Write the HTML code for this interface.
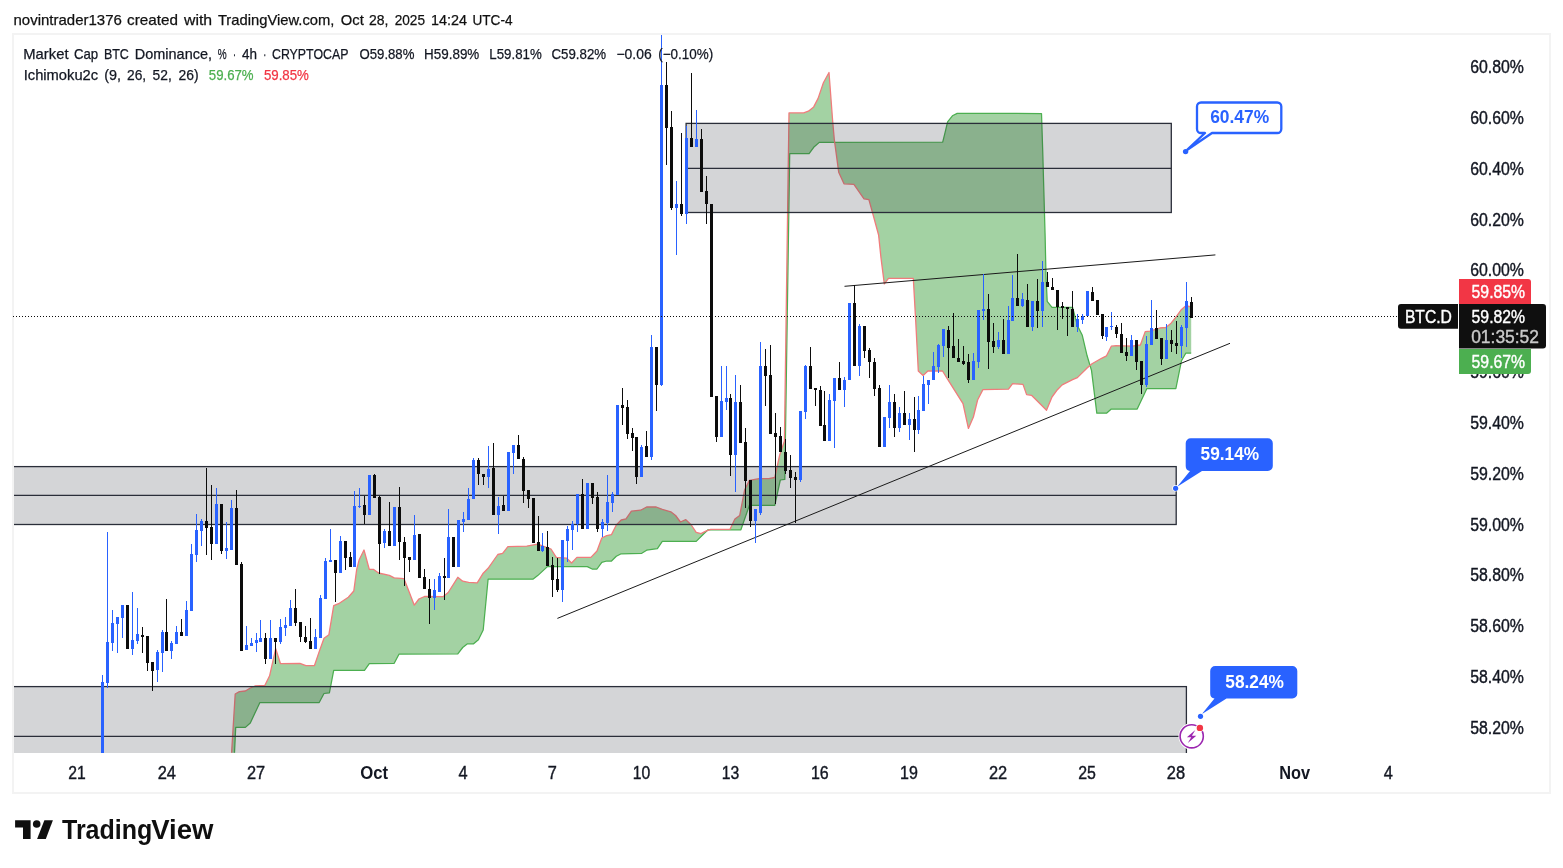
<!DOCTYPE html>
<html lang="en"><head><meta charset="utf-8"><title>BTC.D chart</title>
<style>html,body{margin:0;padding:0;background:#fff}body{width:1563px;height:868px;overflow:hidden}svg{display:block;position:absolute;left:0;top:0}text{font-family:"Liberation Sans","DejaVu Sans",sans-serif;white-space:pre}</style></head><body>
<svg width="1563" height="868" viewBox="0 0 1563 868">
<defs><clipPath id="plot"><rect x="14" y="35" width="1382" height="718"/></clipPath></defs>
<rect width="1563" height="868" fill="#fff"/>
<rect x="13" y="34" width="1537" height="759" fill="none" stroke="#f3f3f3" stroke-width="2"/>
<text y="24.7" font-size="15" fill="#111" stroke-width="0.25"><tspan x="13.5" textLength="108.3" lengthAdjust="spacingAndGlyphs" fill="#111" stroke="#111">novintrader1376</tspan> <tspan x="127" textLength="50.9" lengthAdjust="spacingAndGlyphs" fill="#111" stroke="#111">created</tspan> <tspan x="184" textLength="28.1" lengthAdjust="spacingAndGlyphs" fill="#111" stroke="#111">with</tspan> <tspan x="217.9" textLength="116.5" lengthAdjust="spacingAndGlyphs" fill="#111" stroke="#111">TradingView.com,</tspan> <tspan x="340.8" textLength="23.0" lengthAdjust="spacingAndGlyphs" fill="#111" stroke="#111">Oct</tspan> <tspan x="369" textLength="19.4" lengthAdjust="spacingAndGlyphs" fill="#111" stroke="#111">28,</tspan> <tspan x="394.7" textLength="30.3" lengthAdjust="spacingAndGlyphs" fill="#111" stroke="#111">2025</tspan> <tspan x="431" textLength="36" lengthAdjust="spacingAndGlyphs" fill="#111" stroke="#111">14:24</tspan> <tspan x="472.5" textLength="40.0" lengthAdjust="spacingAndGlyphs" fill="#111" stroke="#111">UTC-4</tspan></text>
<g clip-path="url(#plot)">
<path d="M231.6,752.8 L235.2,694 L239.4,691.6 L245.4,691 L250.3,688 L255,686 L264.8,685.5 L269.6,675.8 L275.7,648.7 L280.5,663.7 L299.9,663.3 L305.9,665.7 L314.4,665.7 L319.2,651.6 L324,638.3 L328.9,634.7 L333.7,605.7 L338.6,603.7 L348.3,597.2 L353.8,591 L356.7,569.4 L359.2,559.7 L364,550 L369.3,569.4 L373.7,569.4 L378.5,573 L389.4,575.4 L394.2,577.8 L403.9,578.6 L408.8,591 L414.3,605.2 L418.9,599 L424.5,596.5 L443.3,596.6 L448.2,592.5 L457.8,577.3 L462.7,581.2 L468.7,582.4 L477.2,582.9 L483.2,573.2 L488.1,568.3 L497.8,554.5 L502.6,553.3 L507.9,546.6 L526.8,546.1 L537.7,544.1 L551,549 L556.3,557.4 L566.7,558.2 L571.6,563 L576.9,557.4 L590.9,557.4 L597,551 L601.8,538 L606.7,535.6 L611.5,534.6 L616.3,525 L621.2,520 L626,518.8 L631.4,511.2 L640.6,510.2 L646.6,507 L656.2,507 L662.3,509.4 L670.8,511.8 L675.6,515.5 L680.4,522 L685.8,519.6 L691.3,525 L696.2,532.4 L701,533.6 L705.8,531.2 L710.7,529.3 L730,529.3 L734.9,519 L739.7,515.5 L744.6,490 L749.4,480.4 L759.1,478.7 L768.8,478.7 L774.8,477.5 L779.7,455 L784.4,441.2 L789.0,112.9 L803.6,112.9 L808.4,111.2 L813.7,106.9 L818.1,98.4 L823.4,82.7 L829,72.5 L832.6,120.2 L834.3,139.5 L838.7,172.2 L844,183.8 L853.9,184.3 L864,198.8 L868.9,199.6 L873.7,217 L878.6,235 L881,258 L884.3,283.8 L888.5,278.3 L913.3,278.3 L915.8,322.6 L918.3,371 L923.1,375.4 L927.9,371 L942.5,371 L948.5,380.7 L963,403.7 L968.4,428.4 L973.4,417 L977.6,400 L982.9,389.6 L1008.5,389.2 L1012.6,383.7 L1023,384.4 L1026.6,394.6 L1031.5,395.3 L1046.5,410.3 L1052,397 L1057.4,389.7 L1062.2,384.9 L1072.6,379.6 L1077.4,377.6 L1087.1,368 L1092,363.8 L1101.6,358.3 L1106.5,355.8 L1111.3,346.2 L1116.2,345.7 L1131.9,346.2 L1140.4,345 L1145.2,331.6 L1150,331.2 L1159.7,328 L1165.8,327.5 L1171.1,323.2 L1175.9,317.1 L1181.5,309.4 L1185.9,305.7 L1191.2,307 L1191.2,353 L1185.9,353 L1181.5,360.7 L1175.9,388.5 L1146.9,388.5 L1137.2,409 L1111.3,409 L1106.5,413.2 L1096.8,413.2 L1091.5,370.4 L1087.1,355.8 L1082.3,335.3 L1077.4,325.6 L1072.6,307.4 L1052,307.4 L1047.2,301.4 L1046,276 L1045.1,235.2 L1042.7,150.5 L1041.5,113.5 L957.2,113.4 L952.4,115.8 L947.6,121.9 L945.1,132.3 L942.7,142.2 L819.3,142.4 L813.7,147.3 L809.1,153.6 L789.7,153.6 L784.8,479.4 L780.3,480 L774.8,505.3 L749.4,505.3 L740.9,529.8 L708,529.8 L704.6,533 L696.2,541.4 L662.3,541.4 L657.4,548.6 L646.6,550.2 L641.8,553.3 L621.2,553.8 L616.3,556.2 L611.5,561 L606.7,561 L601.8,562.3 L597,569 L592.1,569 L587.3,566.6 L547.4,566.6 L537.7,575.6 L532.9,579.2 L488.1,579.2 L483.2,630 L478.4,639.7 L473.6,643.8 L467.5,643.8 L462.7,647.5 L457.8,653.8 L399.1,654 L394.2,663.3 L369.3,663.7 L364.5,670.3 L333.7,670.3 L329.4,692.8 L324,693.5 L319.2,702.5 L259.9,702.5 L250.3,723 L245.4,727.4 L235.7,727.4 L234.5,752.8Z" fill="#48a548" fill-opacity="0.5" stroke="none"/>
<polyline points="234.5,752.8 235.7,727.4 245.4,727.4 250.3,723 259.9,702.5 319.2,702.5 324,693.5 329.4,692.8 333.7,670.3 364.5,670.3 369.3,663.7 394.2,663.3 399.1,654 457.8,653.8 462.7,647.5 467.5,643.8 473.6,643.8 478.4,639.7 483.2,630 488.1,579.2 532.9,579.2 537.7,575.6 547.4,566.6 587.3,566.6 592.1,569 597,569 601.8,562.3 606.7,561 611.5,561 616.3,556.2 621.2,553.8 641.8,553.3 646.6,550.2 657.4,548.6 662.3,541.4 696.2,541.4 704.6,533 708,529.8 740.9,529.8 749.4,505.3 774.8,505.3 780.3,480 784.8,479.4 789.7,153.6 809.1,153.6 813.7,147.3 819.3,142.4 942.7,142.2 945.1,132.3 947.6,121.9 952.4,115.8 957.2,113.4 1041.5,113.5 1042.7,150.5 1045.1,235.2 1046,276 1047.2,301.4 1052,307.4 1072.6,307.4 1077.4,325.6 1082.3,335.3 1087.1,355.8 1091.5,370.4 1096.8,413.2 1106.5,413.2 1111.3,409 1137.2,409 1146.9,388.5 1175.9,388.5 1181.5,360.7 1185.9,353 1191.2,353" fill="none" stroke="#4caf50" stroke-width="1.25" stroke-linejoin="round"/>
<polyline points="231.6,752.8 235.2,694 239.4,691.6 245.4,691 250.3,688 255,686 264.8,685.5 269.6,675.8 275.7,648.7 280.5,663.7 299.9,663.3 305.9,665.7 314.4,665.7 319.2,651.6 324,638.3 328.9,634.7 333.7,605.7 338.6,603.7 348.3,597.2 353.8,591 356.7,569.4 359.2,559.7 364,550 369.3,569.4 373.7,569.4 378.5,573 389.4,575.4 394.2,577.8 403.9,578.6 408.8,591 414.3,605.2 418.9,599 424.5,596.5 443.3,596.6 448.2,592.5 457.8,577.3 462.7,581.2 468.7,582.4 477.2,582.9 483.2,573.2 488.1,568.3 497.8,554.5 502.6,553.3 507.9,546.6 526.8,546.1 537.7,544.1 551,549 556.3,557.4 566.7,558.2 571.6,563 576.9,557.4 590.9,557.4 597,551 601.8,538 606.7,535.6 611.5,534.6 616.3,525 621.2,520 626,518.8 631.4,511.2 640.6,510.2 646.6,507 656.2,507 662.3,509.4 670.8,511.8 675.6,515.5 680.4,522 685.8,519.6 691.3,525 696.2,532.4 701,533.6 705.8,531.2 710.7,529.3 730,529.3 734.9,519 739.7,515.5 744.6,490 749.4,480.4 759.1,478.7 768.8,478.7 774.8,477.5 779.7,455 784.4,441.2 789.0,112.9 803.6,112.9 808.4,111.2 813.7,106.9 818.1,98.4 823.4,82.7 829,72.5 832.6,120.2 834.3,139.5 838.7,172.2 844,183.8 853.9,184.3 864,198.8 868.9,199.6 873.7,217 878.6,235 881,258 884.3,283.8 888.5,278.3 913.3,278.3 915.8,322.6 918.3,371 923.1,375.4 927.9,371 942.5,371 948.5,380.7 963,403.7 968.4,428.4 973.4,417 977.6,400 982.9,389.6 1008.5,389.2 1012.6,383.7 1023,384.4 1026.6,394.6 1031.5,395.3 1046.5,410.3 1052,397 1057.4,389.7 1062.2,384.9 1072.6,379.6 1077.4,377.6 1087.1,368 1092,363.8 1101.6,358.3 1106.5,355.8 1111.3,346.2 1116.2,345.7 1131.9,346.2 1140.4,345 1145.2,331.6 1150,331.2 1159.7,328 1165.8,327.5 1171.1,323.2 1175.9,317.1 1181.5,309.4 1185.9,305.7 1191.2,307" fill="none" stroke="#f07c7c" stroke-width="1.3" stroke-linejoin="round"/>
<rect x="686.1" y="123.4" width="485.19999999999993" height="89.1" fill="rgba(42,46,57,0.2)" stroke="#2a2e39" stroke-width="1.3"/>
<line x1="686.1" y1="168.4" x2="1171.3" y2="168.4" stroke="#2a2e39" stroke-width="1.3"/>
<rect x="0" y="466.6" width="1176.2" height="57.89999999999998" fill="rgba(42,46,57,0.2)" stroke="#2a2e39" stroke-width="1.3"/>
<line x1="0" y1="495.4" x2="1176.2" y2="495.4" stroke="#2a2e39" stroke-width="1.3"/>
<rect x="0" y="686.6" width="1186.4" height="113.39999999999998" fill="rgba(42,46,57,0.2)" stroke="#2a2e39" stroke-width="1.3"/>
<line x1="0" y1="736.3" x2="1186.4" y2="736.3" stroke="#2a2e39" stroke-width="1.3"/>
<line x1="557.4" y1="618.4" x2="1230" y2="343.3" stroke="#1a1a1a" stroke-width="1"/>
<line x1="844.5" y1="286.3" x2="1215.4" y2="254.9" stroke="#1a1a1a" stroke-width="1"/>
<path d="M102.5,675V760M107.5,532V688M112.5,610V651M117.5,617V653M122.5,605V638M132.5,592V655M137.5,608V644M157.5,650V682M162.5,630V672M171.5,641V659M176.5,626V644M186.5,601V636M191.5,544V611M196.5,514V562M201.5,519V546M216.5,488V544M226.5,522V559M231.5,500V550M246.5,626V650M251.5,638V646M256.5,633V652M260.5,620V642M270.5,620V659M280.5,619V644M285.5,617V636M290.5,600V626M315.5,629V649M320.5,595V638M325.5,558V599M330.5,529V562M340.5,536V573M354.5,491V567M359.5,488V508M369.5,475V515M384.5,529V548M394.5,507V546M414.5,515V560M434.5,579V610M439.5,573V592M448.5,509V578M458.5,520V567M463.5,512V532M468.5,488V520M473.5,458V499M488.5,446V488M498.5,497V534M508.5,452V511M513.5,445V474M542.5,533V552M562.5,540V602M567.5,526V562M572.5,521V550M577.5,494V532M587.5,483V529M602.5,519V537M607.5,475V531M612.5,492V512M617.5,405V495M641.5,445V477M651.5,335V460M661.5,30V386M676.5,181V255M686.5,126V224M696.5,110V147M721.5,366V437M726.5,366V410M735.5,375V492M755.5,509V543M760.5,342V515M800.5,411V482M805.5,365V419M829.5,394V441M834.5,378V448M844.5,377V407M849.5,303V380M859.5,324V376M884.5,417V447M889.5,385V428M899.5,407V432M909.5,413V440M918.5,396V434M923.5,376V411M928.5,380V404M933.5,352V380M938.5,344V373M943.5,329V357M973.5,353V380M978.5,310V368M983.5,274V320M998.5,332V349M1008.5,306V354M1012.5,275V321M1022.5,293V307M1032.5,301V331M1042.5,261V327M1077.5,314V332M1082.5,314V324M1087.5,291V316M1106.5,327V341M1111.5,312V330M1131.5,335V356M1146.5,336V387M1151.5,300V345M1166.5,324V359M1181.5,325V358M1186.5,282V347" stroke="#2962ff" stroke-width="1" fill="none"/>
<path d="M101,682h3V760h-3ZM106,642h3V683h-3ZM111,623h3V643h-3ZM116,617h3V624h-3ZM121,605h3V618h-3ZM131,640h3V649h-3ZM136,634h3V641h-3ZM156,652h3V670h-3ZM161,632h3V653h-3ZM170,643h3V651h-3ZM175,632h3V644h-3ZM185,610h3V636h-3ZM190,554h3V611h-3ZM195,530h3V555h-3ZM200,521h3V531h-3ZM215,504h3V544h-3ZM225,548h3V551h-3ZM230,508h3V550h-3ZM245,645h3V650h-3ZM250,643h3V646h-3ZM255,640h3V643h-3ZM259,638h3V642h-3ZM269,638h3V659h-3ZM279,627h3V642h-3ZM284,625h3V628h-3ZM289,608h3V626h-3ZM314,637h3V649h-3ZM319,598h3V638h-3ZM324,561h3V599h-3ZM329,560h3V562h-3ZM339,541h3V573h-3ZM353,506h3V567h-3ZM358,506h3V507h-3ZM368,475h3V515h-3ZM383,531h3V543h-3ZM393,507h3V546h-3ZM413,535h3V560h-3ZM433,590h3V598h-3ZM438,576h3V592h-3ZM447,537h3V578h-3ZM457,520h3V567h-3ZM462,519h3V522h-3ZM467,499h3V520h-3ZM472,460h3V499h-3ZM487,469h3V477h-3ZM497,506h3V515h-3ZM507,452h3V511h-3ZM512,445h3V453h-3ZM541,546h3V551h-3ZM561,540h3V590h-3ZM566,529h3V541h-3ZM571,524h3V530h-3ZM576,494h3V524h-3ZM586,483h3V529h-3ZM601,522h3V529h-3ZM606,502h3V523h-3ZM611,494h3V503h-3ZM616,405h3V495h-3ZM640,447h3V477h-3ZM650,347h3V457h-3ZM660,85h3V385h-3ZM675,204h3V208h-3ZM685,138h3V214h-3ZM695,139h3V147h-3ZM720,401h3V437h-3ZM725,398h3V402h-3ZM734,402h3V455h-3ZM754,509h3V521h-3ZM759,366h3V513h-3ZM799,411h3V480h-3ZM804,366h3V412h-3ZM828,400h3V441h-3ZM833,378h3V401h-3ZM843,380h3V390h-3ZM848,303h3V380h-3ZM858,326h3V366h-3ZM883,417h3V447h-3ZM888,402h3V418h-3ZM898,413h3V428h-3ZM908,419h3V425h-3ZM917,410h3V430h-3ZM922,384h3V411h-3ZM927,380h3V385h-3ZM932,366h3V380h-3ZM937,345h3V367h-3ZM942,329h3V346h-3ZM972,361h3V380h-3ZM977,310h3V362h-3ZM982,309h3V311h-3ZM997,340h3V347h-3ZM1007,320h3V354h-3ZM1011,298h3V321h-3ZM1021,299h3V306h-3ZM1031,301h3V327h-3ZM1041,282h3V311h-3ZM1076,319h3V327h-3ZM1081,316h3V320h-3ZM1086,291h3V316h-3ZM1105,327h3V337h-3ZM1110,326h3V327h-3ZM1130,340h3V356h-3ZM1145,344h3V385h-3ZM1150,328h3V345h-3ZM1165,340h3V359h-3ZM1180,327h3V346h-3ZM1185,301h3V328h-3Z" fill="#2962ff"/>
<path d="M127.5,605V649M142.5,627V653M147.5,636V671M152.5,662V691M166.5,599V651M181.5,619V636M206.5,468V555M211.5,485V560M221.5,504V554M236.5,490V565M241.5,562V651M265.5,633V664M275.5,638V664M295.5,589V626M300.5,622V642M305.5,626V643M310.5,618V649M335.5,560V602M345.5,541V570M350.5,552V567M364.5,496V524M374.5,474V498M379.5,496V574M389.5,502V546M399.5,487V560M404.5,537V586M409.5,557V572M419.5,534V578M424.5,569V589M429.5,579V624M444.5,558V600M453.5,537V567M478.5,458V485M483.5,474V485M493.5,443V515M503.5,496V511M518.5,435V459M523.5,457V503M528.5,490V508M533.5,498V543M538.5,516V551M547.5,531V566M552.5,557V597M557.5,558V592M582.5,479V529M592.5,483V504M597.5,492V532M622.5,388V425M627.5,400V439M632.5,428V451M636.5,437V484M646.5,431V457M656.5,347V411M666.5,62V165M671.5,111V210M681.5,133V216M691.5,73V147M701.5,129V192M706.5,176V224M711.5,204V397M716.5,396V442M730.5,394V476M740.5,385V443M745.5,428V508M750.5,480V527M765.5,349V406M770.5,345V434M775.5,413V504M780.5,427V452M785.5,439V474M790.5,455V488M795.5,472V523M810.5,347V389M815.5,388V406M820.5,386V426M824.5,391V441M839.5,362V390M854.5,285V366M864.5,326V358M869.5,348V378M874.5,358V396M879.5,385V447M894.5,394V437M904.5,391V425M914.5,397V452M948.5,326V378M953.5,313V358M958.5,339V362M963.5,346V365M968.5,354V383M988.5,294V369M993.5,323V353M1003.5,319V354M1017.5,254V306M1027.5,284V327M1037.5,279V328M1047.5,272V287M1052.5,278V290M1057.5,290V330M1062.5,302V319M1067.5,307V336M1072.5,291V327M1092.5,287V301M1097.5,300V315M1102.5,314V339M1116.5,325V338M1121.5,323V353M1126.5,338V361M1136.5,340V370M1141.5,361V394M1156.5,310V339M1161.5,338V365M1171.5,330V352M1176.5,321V354M1191.5,297V318" stroke="#0c0c0c" stroke-width="1" fill="none"/>
<path d="M126,605h3V649h-3ZM141,635h3V637h-3ZM146,636h3V663h-3ZM151,662h3V671h-3ZM165,632h3V651h-3ZM180,632h3V636h-3ZM205,521h3V528h-3ZM210,527h3V544h-3ZM220,504h3V551h-3ZM235,508h3V565h-3ZM240,564h3V651h-3ZM264,638h3V659h-3ZM274,638h3V642h-3ZM294,608h3V623h-3ZM299,622h3V637h-3ZM304,637h3V642h-3ZM309,641h3V649h-3ZM334,560h3V573h-3ZM344,541h3V558h-3ZM349,557h3V567h-3ZM363,505h3V515h-3ZM373,475h3V498h-3ZM378,497h3V544h-3ZM388,531h3V546h-3ZM398,507h3V542h-3ZM403,542h3V558h-3ZM408,557h3V560h-3ZM418,534h3V578h-3ZM423,577h3V589h-3ZM428,589h3V598h-3ZM443,576h3V578h-3ZM452,537h3V567h-3ZM477,460h3V474h-3ZM482,474h3V477h-3ZM492,468h3V515h-3ZM502,505h3V511h-3ZM517,445h3V459h-3ZM522,459h3V491h-3ZM527,490h3V499h-3ZM532,498h3V543h-3ZM537,542h3V551h-3ZM546,547h3V566h-3ZM551,565h3V580h-3ZM556,579h3V590h-3ZM581,494h3V529h-3ZM591,483h3V498h-3ZM596,497h3V529h-3ZM621,405h3V408h-3ZM626,407h3V434h-3ZM631,433h3V438h-3ZM635,437h3V477h-3ZM645,446h3V457h-3ZM655,347h3V385h-3ZM665,85h3V128h-3ZM670,127h3V208h-3ZM680,204h3V214h-3ZM690,138h3V147h-3ZM700,139h3V192h-3ZM705,191h3V204h-3ZM710,204h3V397h-3ZM715,396h3V437h-3ZM729,398h3V455h-3ZM739,402h3V443h-3ZM744,442h3V481h-3ZM749,480h3V521h-3ZM764,366h3V376h-3ZM769,375h3V434h-3ZM774,433h3V437h-3ZM779,436h3V452h-3ZM784,452h3V471h-3ZM789,470h3V478h-3ZM794,477h3V480h-3ZM809,366h3V389h-3ZM814,388h3V390h-3ZM819,390h3V426h-3ZM823,425h3V441h-3ZM838,378h3V390h-3ZM853,303h3V366h-3ZM863,326h3V351h-3ZM868,350h3V362h-3ZM873,362h3V389h-3ZM878,388h3V447h-3ZM893,402h3V428h-3ZM903,413h3V425h-3ZM913,419h3V430h-3ZM947,330h3V348h-3ZM952,346h3V358h-3ZM957,358h3V362h-3ZM962,361h3V364h-3ZM967,362h3V380h-3ZM987,309h3V342h-3ZM992,341h3V347h-3ZM1002,340h3V354h-3ZM1016,298h3V306h-3ZM1026,300h3V327h-3ZM1036,301h3V311h-3ZM1046,282h3V287h-3ZM1051,287h3V290h-3ZM1056,290h3V307h-3ZM1061,306h3V308h-3ZM1066,307h3V309h-3ZM1071,309h3V327h-3ZM1091,292h3V301h-3ZM1096,300h3V315h-3ZM1101,314h3V336h-3ZM1115,327h3V334h-3ZM1120,334h3V353h-3ZM1125,352h3V356h-3ZM1135,340h3V362h-3ZM1140,361h3V385h-3ZM1155,328h3V339h-3ZM1160,338h3V359h-3ZM1170,340h3V344h-3ZM1175,343h3V346h-3ZM1190,302h3V318h-3Z" fill="#0c0c0c"/>
</g>
<line x1="13" y1="316.5" x2="1398" y2="316.5" stroke="#0c0c0c" stroke-width="1" stroke-dasharray="1 2"/>
<text y="58.7" font-size="14.4" fill="#131722" stroke-width="0.25"><tspan x="23.3" textLength="45.2" lengthAdjust="spacingAndGlyphs" fill="#131722" stroke="#131722">Market</tspan> <tspan x="73.9" textLength="24.3" lengthAdjust="spacingAndGlyphs" fill="#131722" stroke="#131722">Cap</tspan> <tspan x="103.9" textLength="25.0" lengthAdjust="spacingAndGlyphs" fill="#131722" stroke="#131722">BTC</tspan> <tspan x="134.8" textLength="77.2" lengthAdjust="spacingAndGlyphs" fill="#131722" stroke="#131722">Dominance,</tspan> <tspan x="217.8" textLength="8.9" lengthAdjust="spacingAndGlyphs" fill="#131722" stroke="#131722">%</tspan> <tspan x="232.9" textLength="3.0" lengthAdjust="spacingAndGlyphs" fill="#131722" stroke="#131722">·</tspan> <tspan x="242.1" textLength="15.0" lengthAdjust="spacingAndGlyphs" fill="#131722" stroke="#131722">4h</tspan> <tspan x="263.3" textLength="3.0" lengthAdjust="spacingAndGlyphs" fill="#131722" stroke="#131722">·</tspan> <tspan x="272" textLength="76.2" lengthAdjust="spacingAndGlyphs" fill="#131722" stroke="#131722">CRYPTOCAP</tspan> <tspan x="359.5" textLength="54.9" lengthAdjust="spacingAndGlyphs" fill="#131722" stroke="#131722">O59.88%</tspan> <tspan x="424.1" textLength="55.2" lengthAdjust="spacingAndGlyphs" fill="#131722" stroke="#131722">H59.89%</tspan> <tspan x="489.3" textLength="52.4" lengthAdjust="spacingAndGlyphs" fill="#131722" stroke="#131722">L59.81%</tspan> <tspan x="551.5" textLength="54.6" lengthAdjust="spacingAndGlyphs" fill="#131722" stroke="#131722">C59.82%</tspan> <tspan x="616.5" textLength="35.2" lengthAdjust="spacingAndGlyphs" fill="#131722" stroke="#131722">−0.06</tspan> <tspan x="658.3" textLength="54.9" lengthAdjust="spacingAndGlyphs" fill="#131722" stroke="#131722">(−0.10%)</tspan></text>
<text y="79.8" font-size="14.4" fill="#131722" stroke-width="0.25"><tspan x="23.7" textLength="74.5" lengthAdjust="spacingAndGlyphs" fill="#131722" stroke="#131722">Ichimoku2c</tspan> <tspan x="104.2" textLength="16.8" lengthAdjust="spacingAndGlyphs" fill="#131722" stroke="#131722">(9,</tspan> <tspan x="127" textLength="19.2" lengthAdjust="spacingAndGlyphs" fill="#131722" stroke="#131722">26,</tspan> <tspan x="152.6" textLength="19.2" lengthAdjust="spacingAndGlyphs" fill="#131722" stroke="#131722">52,</tspan> <tspan x="178.5" textLength="20.1" lengthAdjust="spacingAndGlyphs" fill="#131722" stroke="#131722">26)</tspan> <tspan x="208.8" textLength="44.8" lengthAdjust="spacingAndGlyphs" fill="#4caf50" stroke="#4caf50">59.67%</tspan> <tspan x="263.9" textLength="45.0" lengthAdjust="spacingAndGlyphs" fill="#f23645" stroke="#f23645">59.85%</tspan></text>
<text x="1470.2" y="73.0" font-size="18" fill="#131722" stroke="#131722" stroke-width="0.4" textLength="53.7" lengthAdjust="spacingAndGlyphs">60.80%</text>
<text x="1470.2" y="123.8" font-size="18" fill="#131722" stroke="#131722" stroke-width="0.4" textLength="53.7" lengthAdjust="spacingAndGlyphs">60.60%</text>
<text x="1470.2" y="174.7" font-size="18" fill="#131722" stroke="#131722" stroke-width="0.4" textLength="53.7" lengthAdjust="spacingAndGlyphs">60.40%</text>
<text x="1470.2" y="225.5" font-size="18" fill="#131722" stroke="#131722" stroke-width="0.4" textLength="53.7" lengthAdjust="spacingAndGlyphs">60.20%</text>
<text x="1470.2" y="276.3" font-size="18" fill="#131722" stroke="#131722" stroke-width="0.4" textLength="53.7" lengthAdjust="spacingAndGlyphs">60.00%</text>
<text x="1470.2" y="327.1" font-size="18" fill="#131722" stroke="#131722" stroke-width="0.4" textLength="53.7" lengthAdjust="spacingAndGlyphs">59.80%</text>
<text x="1470.2" y="378.0" font-size="18" fill="#131722" stroke="#131722" stroke-width="0.4" textLength="53.7" lengthAdjust="spacingAndGlyphs">59.60%</text>
<text x="1470.2" y="428.8" font-size="18" fill="#131722" stroke="#131722" stroke-width="0.4" textLength="53.7" lengthAdjust="spacingAndGlyphs">59.40%</text>
<text x="1470.2" y="479.6" font-size="18" fill="#131722" stroke="#131722" stroke-width="0.4" textLength="53.7" lengthAdjust="spacingAndGlyphs">59.20%</text>
<text x="1470.2" y="530.5" font-size="18" fill="#131722" stroke="#131722" stroke-width="0.4" textLength="53.7" lengthAdjust="spacingAndGlyphs">59.00%</text>
<text x="1470.2" y="581.3" font-size="18" fill="#131722" stroke="#131722" stroke-width="0.4" textLength="53.7" lengthAdjust="spacingAndGlyphs">58.80%</text>
<text x="1470.2" y="632.1" font-size="18" fill="#131722" stroke="#131722" stroke-width="0.4" textLength="53.7" lengthAdjust="spacingAndGlyphs">58.60%</text>
<text x="1470.2" y="683.0" font-size="18" fill="#131722" stroke="#131722" stroke-width="0.4" textLength="53.7" lengthAdjust="spacingAndGlyphs">58.40%</text>
<text x="1470.2" y="733.8" font-size="18" fill="#131722" stroke="#131722" stroke-width="0.4" textLength="53.7" lengthAdjust="spacingAndGlyphs">58.20%</text>
<text x="77" y="778.8" font-size="18" fill="#131722" stroke="#131722" stroke-width="0.4" textLength="17.5" lengthAdjust="spacingAndGlyphs" text-anchor="middle">21</text>
<text x="166.8" y="778.8" font-size="18" fill="#131722" stroke="#131722" stroke-width="0.4" textLength="18.3" lengthAdjust="spacingAndGlyphs" text-anchor="middle">24</text>
<text x="256" y="778.8" font-size="18" fill="#131722" stroke="#131722" stroke-width="0.4" textLength="18.2" lengthAdjust="spacingAndGlyphs" text-anchor="middle">27</text>
<text x="374.2" y="778.8" font-size="18" fill="#131722" textLength="27.9" lengthAdjust="spacingAndGlyphs" font-weight="bold" text-anchor="middle">Oct</text>
<text x="463" y="778.8" font-size="18" fill="#131722" stroke="#131722" stroke-width="0.4" textLength="9.1" lengthAdjust="spacingAndGlyphs" text-anchor="middle">4</text>
<text x="552.3" y="778.8" font-size="18" fill="#131722" stroke="#131722" stroke-width="0.4" textLength="9.1" lengthAdjust="spacingAndGlyphs" text-anchor="middle">7</text>
<text x="641.5" y="778.8" font-size="18" fill="#131722" stroke="#131722" stroke-width="0.4" textLength="17.5" lengthAdjust="spacingAndGlyphs" text-anchor="middle">10</text>
<text x="730.6" y="778.8" font-size="18" fill="#131722" stroke="#131722" stroke-width="0.4" textLength="17.5" lengthAdjust="spacingAndGlyphs" text-anchor="middle">13</text>
<text x="819.8" y="778.8" font-size="18" fill="#131722" stroke="#131722" stroke-width="0.4" textLength="17.8" lengthAdjust="spacingAndGlyphs" text-anchor="middle">16</text>
<text x="909" y="778.8" font-size="18" fill="#131722" stroke="#131722" stroke-width="0.4" textLength="17.8" lengthAdjust="spacingAndGlyphs" text-anchor="middle">19</text>
<text x="998.1" y="778.8" font-size="18" fill="#131722" stroke="#131722" stroke-width="0.4" textLength="18.3" lengthAdjust="spacingAndGlyphs" text-anchor="middle">22</text>
<text x="1087" y="778.8" font-size="18" fill="#131722" stroke="#131722" stroke-width="0.4" textLength="17.7" lengthAdjust="spacingAndGlyphs" text-anchor="middle">25</text>
<text x="1176" y="778.8" font-size="18" fill="#131722" stroke="#131722" stroke-width="0.4" textLength="18.3" lengthAdjust="spacingAndGlyphs" text-anchor="middle">28</text>
<text x="1294.7" y="778.8" font-size="18" fill="#131722" textLength="30.9" lengthAdjust="spacingAndGlyphs" font-weight="bold" text-anchor="middle">Nov</text>
<text x="1388.4" y="778.8" font-size="18" fill="#131722" stroke="#131722" stroke-width="0.4" textLength="9.1" lengthAdjust="spacingAndGlyphs" text-anchor="middle">4</text>
<path d="M1459,279h69a3,3 0 0 1 3,3v22h-72z" fill="#f23645"/>
<path d="M1459,349h72v22a3,3 0 0 1 -3,3h-69z" fill="#4caf50"/>
<path d="M1459,304h84a3,3 0 0 1 3,3v38.5a3,3 0 0 1 -3,3h-84z" fill="#0f0f0f"/>
<path d="M1401,304h57v24.7h-57a3,3 0 0 1 -3,-3v-18.7a3,3 0 0 1 3,-3z" fill="#0f0f0f"/>
<text x="1471.6" y="298.3" font-size="18" fill="#fff" stroke="#fff" stroke-width="0.4" textLength="53.5" lengthAdjust="spacingAndGlyphs">59.85%</text>
<text x="1471.6" y="323" font-size="18" fill="#fff" stroke="#fff" stroke-width="0.4" textLength="53.5" lengthAdjust="spacingAndGlyphs">59.82%</text>
<text x="1471.2" y="343.2" font-size="18" fill="#c9c9c9" stroke="#c9c9c9" stroke-width="0.4" textLength="67.8" lengthAdjust="spacingAndGlyphs">01:35:52</text>
<text x="1471.6" y="368.2" font-size="18" fill="#fff" stroke="#fff" stroke-width="0.4" textLength="53.5" lengthAdjust="spacingAndGlyphs">59.67%</text>
<text x="1404.9" y="322.6" font-size="18" fill="#fff" stroke="#fff" stroke-width="0.4" textLength="47" lengthAdjust="spacingAndGlyphs">BTC.D</text>
<path d="M1187.4,149.7L1205,133H1201a4,4 0 0 1 -4,-4V106.5a4,4 0 0 1 4,-4H1277.3a4,4 0 0 1 4,4V129a4,4 0 0 1 -4,4H1212Z" fill="#fff" stroke="#2962ff" stroke-width="2.3" stroke-linejoin="round"/>
<circle cx="1185.6" cy="151.6" r="2.7" fill="#2962ff"/>
<text x="1210.2" y="123" font-size="17.8" fill="#2962ff" textLength="59" lengthAdjust="spacingAndGlyphs" font-weight="bold">60.47%</text>
<path d="M1177.2,486.7L1190,471a5,5 0 0 1 -4.3,-5V443.3a5,5 0 0 1 5,-5H1267.8a5,5 0 0 1 5,5V466a5,5 0 0 1 -5,5H1202Z" fill="#2962ff"/>
<circle cx="1175.6" cy="488.3" r="3.3" fill="#fff"/><circle cx="1175.6" cy="488.3" r="2.6" fill="#2962ff"/>
<text x="1200.6" y="460.1" font-size="17.8" fill="#fff" textLength="58.6" lengthAdjust="spacingAndGlyphs" font-weight="bold">59.14%</text>
<path d="M1201.7,714.3L1214.5,698.5a5,5 0 0 1 -4.3,-5V671.1a5,5 0 0 1 5,-5H1292.3a5,5 0 0 1 5,5V693.5a5,5 0 0 1 -5,5H1226.5Z" fill="#2962ff"/>
<circle cx="1200.5" cy="716.3" r="3.3" fill="#fff"/><circle cx="1200.5" cy="716.3" r="2.6" fill="#2962ff"/>
<text x="1225.3" y="687.9" font-size="17.8" fill="#fff" textLength="58.7" lengthAdjust="spacingAndGlyphs" font-weight="bold">58.24%</text>
<circle cx="1191.7" cy="736.3" r="13.2" fill="#fff"/>
<circle cx="1191.7" cy="736.3" r="11.6" fill="#fff" stroke="#9c27b0" stroke-width="1.6"/>
<polygon points="1195.3,730.0 1186.9,737.3 1191.2,737.3 1187.8,742.9 1196.3,735.7 1191.9,735.7" fill="#9c27b0"/>
<circle cx="1199.9" cy="727.9" r="4.2" fill="#fff"/><circle cx="1199.9" cy="727.9" r="3.2" fill="#f23645"/>
<g fill="#0f0f0f">
<path d="M15.1,820.2H30.6V839.1H23V827.5H15.1Z"/>
<circle cx="36.7" cy="824" r="3.8"/>
<path d="M44.4,820.2H52.9L45.8,839.1H37.1Z"/>
</g>
<text y="839.1" font-size="27.2" fill="#0f0f0f" font-weight="bold"><tspan x="62" textLength="90.3" lengthAdjust="spacingAndGlyphs">Trading</tspan> <tspan x="151.2" textLength="62.2" lengthAdjust="spacingAndGlyphs">View</tspan></text>
</svg></body></html>
